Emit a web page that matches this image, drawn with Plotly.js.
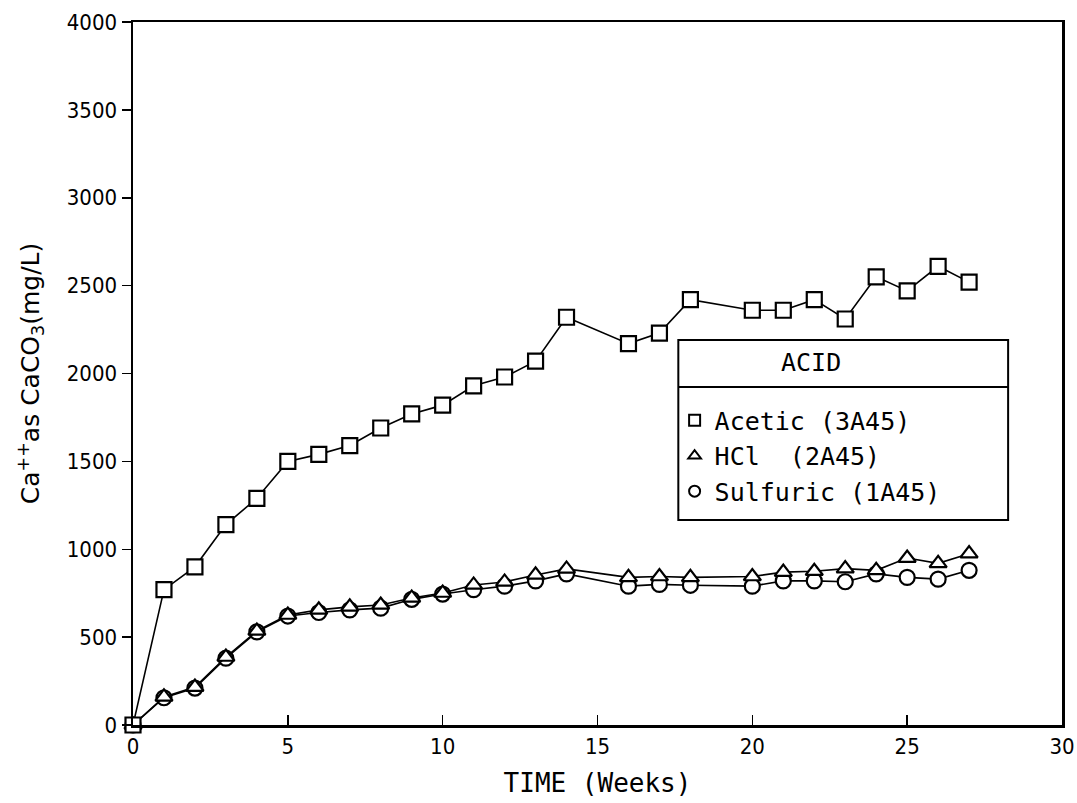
<!DOCTYPE html>
<html>
<head>
<meta charset="utf-8">
<script src="https://cdn.plot.ly/plotly-3.0.1.min.js"></script>
<style>html,body{margin:0;padding:0;background:#fff;}#chart{width:1077px;height:803px;}</style>
</head>
<body>
<div id="chart"></div>
<script>
// Data
const weeks = [0,1,2,3,4,5,6,7,8,9,10,11,12,13,14,16,17,18,20,21,22,23,24,25,26,27];
const acetic = [0,770,900,1140,1290,1500,1540,1590,1690,1770,1820,1930,1980,2070,2320,2170,2230,2420,2360,2360,2420,2310,2550,2470,2610,2520];
const hcl = [0,160,216,387,535,626,655,672,683,723,751,797,814,854,888,840,845,840,845,870,875,890,880,950,920,975];
const sulfuric = [0,155,210,380,530,620,640,655,665,715,745,770,790,820,860,790,800,795,790,820,820,815,860,840,830,880];
const seriesNames = ["Acetic (3A45)", "HCl  (2A45)", "Sulfuric (1A45)"];
const xTicks = [0,5,10,15,20,25,30];
const yTicks = [0,500,1000,1500,2000,2500,3000,3500,4000];

const fontFam = "DejaVu Sans Condensed, DejaVu Sans, sans-serif";
const monoFam = "DejaVu Sans Mono, monospace";

function mk(y, sym) {
  return {
    x: weeks, y: y, type: "scatter", mode: "lines+markers",
    showlegend: false, cliponaxis: false,
    line: {color: "#000", width: 1.6},
    marker: {symbol: sym, size: 15, color: "#fff", line: {color: "#000", width: 2.2}}
  };
}
function leg(name, sym, rank) {
  return {
    x: [null], y: [null], type: "scatter", mode: "markers", name: name,
    showlegend: true, legendrank: rank,
    marker: {symbol: sym, size: 11, color: "#fff", line: {color: "#000", width: 2}}
  };
}
const traces = [
  mk(sulfuric, "circle"),
  mk(hcl, "triangle-up"),
  mk(acetic, "square"),
  leg(seriesNames[0], "square", 1),
  leg(seriesNames[1], "triangle-up", 2),
  leg(seriesNames[2], "circle", 3)
];

const layout = {
  width: 1077, height: 803,
  margin: {l: 133, r: 15, t: 22, b: 78},
  paper_bgcolor: "#fff", plot_bgcolor: "#fff",
  font: {family: fontFam, color: "#000", size: 20},
  showlegend: true,
  legend: {
    x: 0.583, y: 0.466, xanchor: "left", yanchor: "top",
    traceorder: "normal",
    font: {family: monoFam, size: 25, color: "#000"},
    bgcolor: "rgba(0,0,0,0)", borderwidth: 0, itemwidth: 30
  },
  xaxis: {
    range: [0, 30], tickvals: xTicks, ticktext: xTicks.map(String),
    ticks: "inside", ticklen: 10, tickwidth: 1.5, tickcolor: "#000",
    ticklabeloverflow: "allow",
    showline: true, linecolor: "#000", linewidth: 2.5, mirror: true,
    showgrid: false, zeroline: false,
    tickfont: {family: fontFam, size: 22},
    title: {text: "TIME (Weeks)", font: {family: monoFam, size: 26}, standoff: 16}
  },
  yaxis: {
    range: [0, 4000], tickvals: yTicks, ticktext: yTicks.map(String),
    ticks: "outside", ticklen: 9, tickwidth: 1.5, tickcolor: "#000",
    showline: true, linecolor: "#000", linewidth: 2.5, mirror: true,
    showgrid: false, zeroline: false,
    tickfont: {family: fontFam, size: 22},
    title: {text: "Ca<sup>++</sup>as CaCO<sub>3</sub>(mg/L)", font: {family: "DejaVu Sans, sans-serif", size: 25}, standoff: 20}
  },
  shapes: [
    {type: "rect", xref: "paper", yref: "paper", x0: 0.587, x1: 0.942, y0: 0.2916, y1: 0.5477,
     line: {color: "#000", width: 2}, fillcolor: "#fff", layer: "above"},
    {type: "line", xref: "paper", yref: "paper", x0: 0.587, x1: 0.942, y0: 0.4808, y1: 0.4808,
     line: {color: "#000", width: 2}}
  ],
  annotations: [
    {xref: "paper", yref: "paper", x: 0.7645, y: 0.515, text: "ACID", showarrow: false,
     font: {family: monoFam, size: 25, color: "#000"}}
  ]
};

Plotly.newPlot("chart", traces, layout, {displayModeBar: false, staticPlot: true});
</script>
</body>
</html>
